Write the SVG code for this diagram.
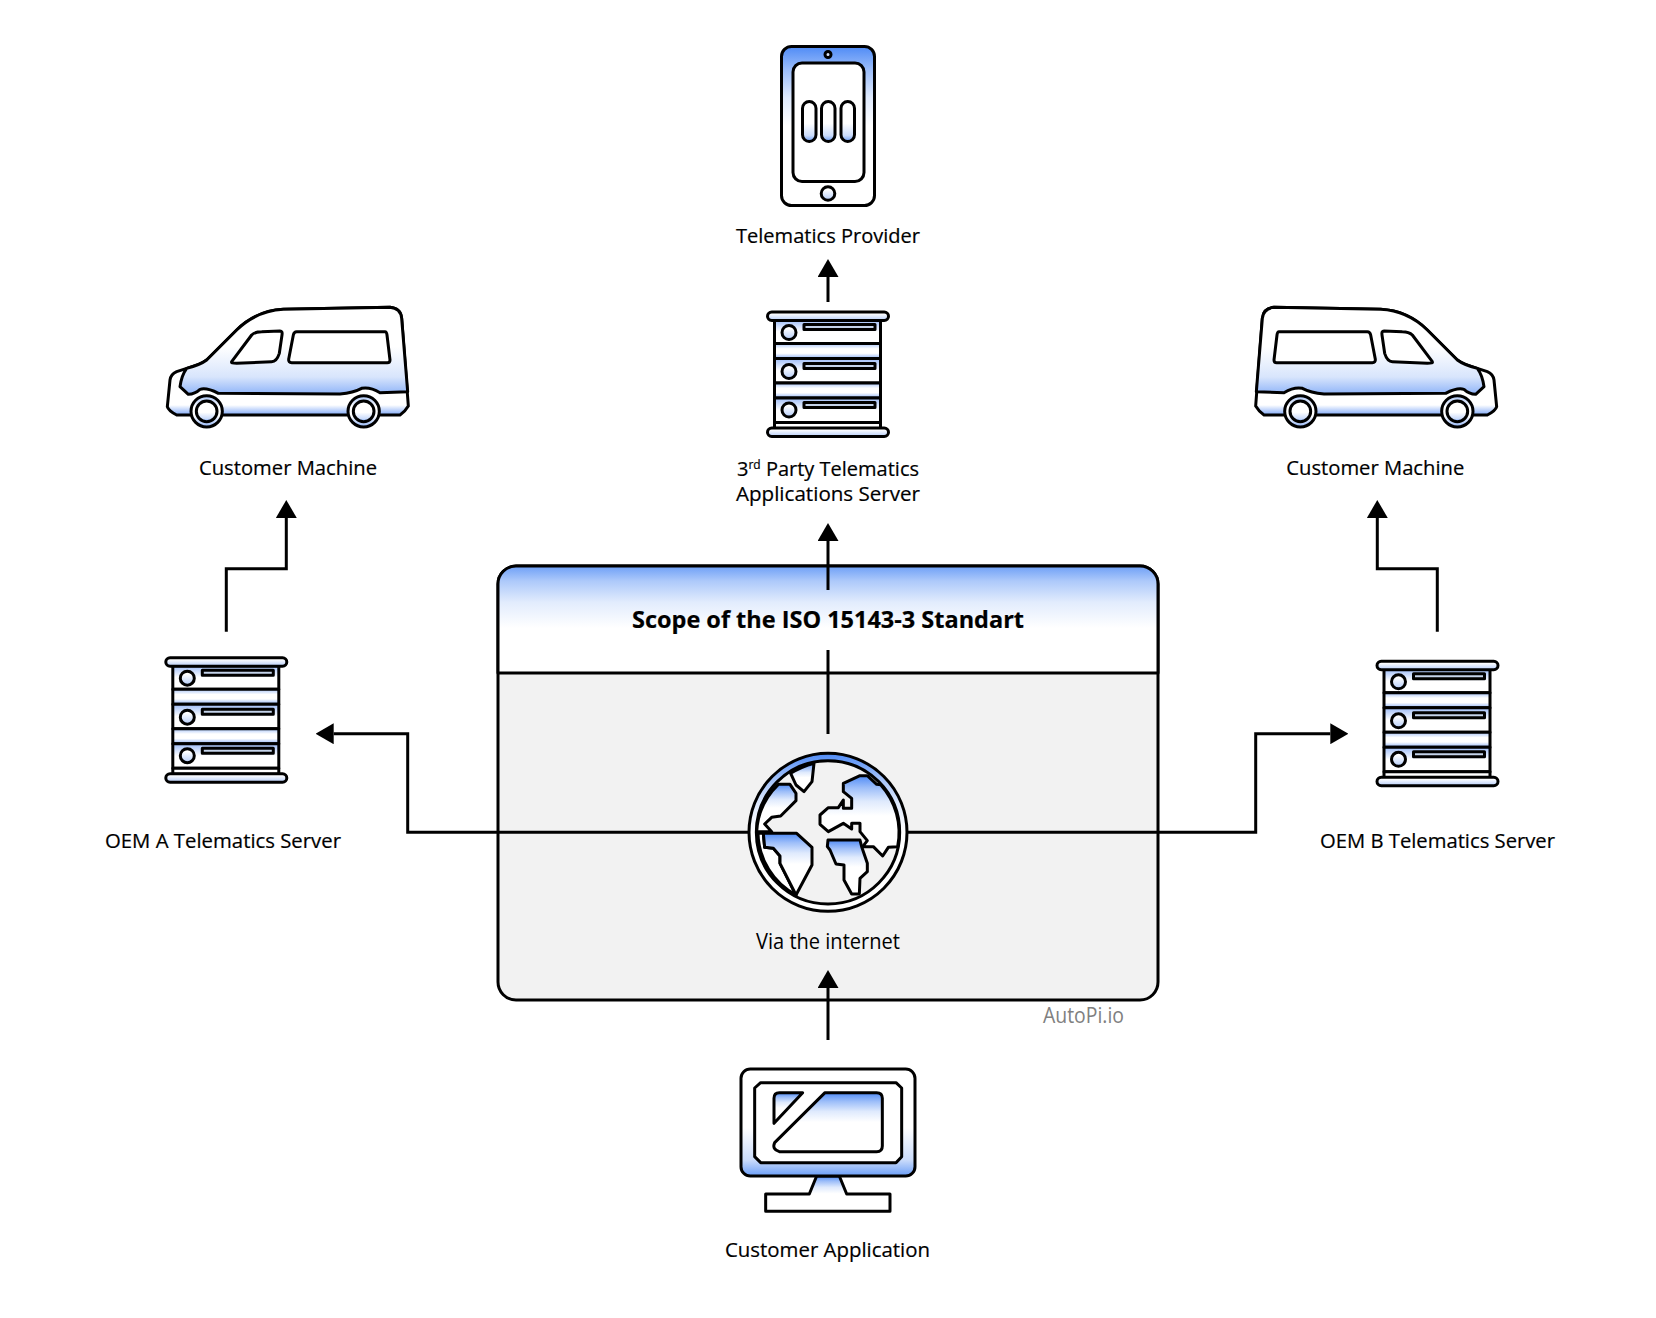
<svg xmlns="http://www.w3.org/2000/svg" xmlns:xlink="http://www.w3.org/1999/xlink" width="1656" height="1318" viewBox="0 0 1656 1318">
<style>
text{font-family:"Open Sans","Noto Sans","Liberation Sans",sans-serif;fill:#000;stroke:#000;stroke-width:.2;text-anchor:middle;font-size:20px}
.s{stroke:#000;stroke-width:3;stroke-linejoin:round}
.z{stroke:#000;stroke-width:9;stroke-linejoin:round;stroke-linecap:round}
.c{fill:none;stroke:#000;stroke-width:3;stroke-linecap:butt;stroke-linejoin:miter;marker-end:url(#head)}
.n{fill:none;stroke:#000;stroke-width:3}
.w{fill:#fff}.d{fill:url(#down)}.u{fill:url(#up)}.b{fill:url(#both)}.l{fill:url(#lightUp)}.r{fill:url(#row)}
</style>
<defs>
<linearGradient id="down" x1="0" y1="0" x2="0" y2="1"><stop offset="0" stop-color="#4f8bf6"/><stop offset=".15" stop-color="#9dbef9"/><stop offset=".32" stop-color="#dfeafd"/><stop offset=".5" stop-color="#fff"/></linearGradient>
<linearGradient id="up" x1="0" y1="0" x2="0" y2="1"><stop offset=".55" stop-color="#fff"/><stop offset=".85" stop-color="#cbdcfb"/><stop offset="1" stop-color="#6a9df6"/></linearGradient>
<linearGradient id="both" x1="0" y1="0" x2="0" y2="1"><stop offset="0" stop-color="#a8c4f8"/><stop offset=".35" stop-color="#fff"/><stop offset=".65" stop-color="#fff"/><stop offset="1" stop-color="#8fb3f7"/></linearGradient>
<linearGradient id="row" x1="0" y1="0" x2="0" y2="1"><stop offset="0" stop-color="#9dbcf8"/><stop offset=".5" stop-color="#fff"/></linearGradient>
<linearGradient id="lightUp" x1="0" y1="0" x2="0" y2="1"><stop offset=".2" stop-color="#fff"/><stop offset="1" stop-color="#b4ccf9"/></linearGradient>
<linearGradient id="head1" x1="0" y1="0" x2="0" y2="1"><stop offset="0" stop-color="#6d9ff6"/><stop offset=".14" stop-color="#adc9fa"/><stop offset=".34" stop-color="#e2ecfd"/><stop offset=".58" stop-color="#fff"/></linearGradient>
<marker id="head" markerUnits="userSpaceOnUse" markerWidth="18" markerHeight="21" refX="0" refY="10.5" orient="auto"><path d="M0,0 L18,10.5 L0,21 Z" fill="#000"/></marker>
<g id="server">
<rect class="s r" x="774.5" y="320" width="106" height="23.5"/>
<rect class="s b" x="774.5" y="343.5" width="106" height="15"/>
<rect class="s r" x="774.5" y="358.5" width="106" height="24.5"/>
<rect class="s b" x="774.5" y="383" width="106" height="15"/>
<rect class="s r" x="774.5" y="398" width="106" height="24.5"/>
<rect class="s w" x="774.5" y="422.5" width="106" height="6"/>
<rect class="s l" x="767.5" y="312" width="121" height="8.5" rx="4.25"/>
<rect class="s l" x="767.5" y="428" width="121" height="8.5" rx="4.25"/>
<circle class="s l" cx="789" cy="332.5" r="7"/><circle class="s l" cx="789" cy="371.5" r="7"/><circle class="s l" cx="789" cy="410" r="7"/>
<rect class="s" fill="#c4d3ea" x="804" y="324.5" width="71" height="5"/><rect class="s" fill="#c4d3ea" x="804" y="363.5" width="71" height="5"/><rect class="s" fill="#c4d3ea" x="804" y="402.5" width="71" height="5"/>
</g>
<g id="van" transform="translate(140,280) scale(.33333)">
<path class="z" fill="url(#vanLow)" d="M82,380 Q85,392 110,405 L780,405 Q795,395 805,378 L785,115 Q782,85 750,82 L430,88 Q350,92 290,150 L200,240 Q180,255 140,265 L110,275 Q92,283 90,300 Z"/>
<path class="z" fill="url(#vanUp)" d="M140,265 Q180,255 200,240 L290,150 Q350,92 430,88 L750,82 Q782,85 785,115 L803,335 L720,338 Q690,320 665,325 Q640,338 600,342 L235,340 Q200,322 180,328 Q165,342 145,343 L120,320 Q125,285 140,265 Z"/>
<path class="z w" d="M275,245 L335,165 Q345,155 365,155 L420,153 Q428,153 426,165 L418,220 Q410,245 395,245 L290,250 Q272,250 275,245 Z"/>
<path class="z w" d="M470,155 L735,155 Q740,155 741,165 L750,240 Q750,248 742,248 L455,248 Q445,248 446,238 L460,165 Q462,155 470,155 Z"/>
<circle class="z b" cx="200" cy="394" r="47"/><circle class="z" fill="url(#up)" cx="200" cy="394" r="31"/>
<circle class="z b" cx="671" cy="394" r="47"/><circle class="z" fill="url(#up)" cx="671" cy="394" r="31"/>
</g>
<linearGradient id="vanUp" x1="0" y1="0" x2="0" y2="1"><stop offset=".45" stop-color="#fff"/><stop offset=".8" stop-color="#d8e5fc"/><stop offset="1" stop-color="#8fb4f8"/></linearGradient>
<linearGradient id="vanLow" gradientUnits="userSpaceOnUse" x1="0" y1="345" x2="0" y2="405"><stop offset=".5" stop-color="#fff"/><stop offset="1" stop-color="#80a9f7"/></linearGradient>
</defs>

<g id="scope-box">
<rect class="s" fill="#f2f2f2" x="498" y="566" width="660" height="434" rx="18"/>
<path class="s" fill="url(#head1)" d="M498,673 L498,584 A18,18 0 0 1 516,566 L1140,566 A18,18 0 0 1 1158,584 L1158,673 Z"/>
<text x="828" y="628" style="font-size:24px;font-weight:700" textLength="392" lengthAdjust="spacingAndGlyphs">Scope of the ISO 15143-3 Standart</text>
<text x="1089" y="1028" style="fill:#808080;stroke:none;font-size:21px;font-weight:400" textLength="81" lengthAdjust="spacingAndGlyphs" transform="translate(-5.5,-5)">AutoPi.io</text>
</g>

<g id="connectors">
<path class="c" d="M828,302 L828,277"/>
<path class="c" d="M828,590 L828,541"/>
<path class="n" d="M828,650 L828,734"/>
<path class="c" d="M828,1040 L828,988"/>
<path class="c" d="M226.3,631.7 L226.3,568.7 L286.3,568.7 L286.3,518"/>
<path class="c" d="M1437.3,631.7 L1437.3,568.7 L1377.3,568.7 L1377.3,518"/>
<path class="c" d="M750,832.3 L407.7,832.3 L407.7,733.7 L333.7,733.7"/>
<path class="c" d="M906,832.3 L1255.7,832.3 L1255.7,733.7 L1330.3,733.7"/>
</g>

<g id="telematics-provider">
<rect class="s d" x="781.5" y="46.5" width="93" height="159" rx="10"/>
<rect class="s w" x="793" y="63" width="71" height="118.5" rx="9"/>
<rect class="s u" x="802.5" y="101.5" width="13.5" height="40" rx="6.7"/>
<rect class="s u" x="821.5" y="101.5" width="13.5" height="40" rx="6.7"/>
<rect class="s u" x="841" y="101.5" width="13.5" height="40" rx="6.7"/>
<circle class="s" fill="#dbe6fb" cx="828" cy="54.5" r="3"/>
<circle class="s l" cx="828" cy="193.5" r="6.8"/>
<text x="828" y="243" textLength="184" lengthAdjust="spacingAndGlyphs">Telematics Provider</text>
</g>

<g id="apps-server">
<use href="#server"/>
<text x="828" y="476"><tspan>3</tspan><tspan dy="-7" style="font-size:12px">rd</tspan><tspan dy="7"> Party Telematics</tspan></text>
<text x="828" y="501" textLength="184" lengthAdjust="spacingAndGlyphs">Applications Server</text>
</g>

<g id="machine-left">
<use href="#van"/>
<text x="288" y="475" textLength="178" lengthAdjust="spacingAndGlyphs">Customer Machine</text>
</g>
<g id="machine-right">
<use href="#van" transform="translate(1664,0) scale(-1,1)"/>
<text x="1375.3" y="475" textLength="178" lengthAdjust="spacingAndGlyphs">Customer Machine</text>
</g>

<g id="oem-a">
<use href="#server" transform="translate(-601.7,345.7)"/>
<text x="223" y="848" textLength="236" lengthAdjust="spacingAndGlyphs">OEM A Telematics Server</text>
</g>
<g id="oem-b">
<use href="#server" transform="translate(609.5,349.3)"/>
<text x="1437.5" y="848" textLength="235" lengthAdjust="spacingAndGlyphs">OEM B Telematics Server</text>
</g>

<g id="internet">
<g transform="translate(730,730) scale(.33333)">
<circle class="z" fill="url(#down)" cx="294" cy="307" r="237"/>
<circle class="z" fill="#f2f2f2" cx="294" cy="307" r="215"/>
<path class="z d" d="M182,130 Q215,110 252,100 L246,155 L222,185 L198,165 Z"/>
<path class="z d" d="M145,163 L180,163 L198,190 L198,212 L152,258 L125,262 L104,282 L125,305 L80,305 A215,215 0 0 1 145,163 Z"/>
<path class="z w" d="M84,310 L100,310 L104,352 L130,355 L150,378 L150,400 L198,495 A215,215 0 0 1 84,310 Z"/>
<path class="z d" d="M100,310 L200,310 L246,352 L246,405 L198,495 L150,400 L150,378 L130,355 L104,352 Z"/>
<path class="z d" d="M294,330 L390,330 L395,350 L412,400 L412,425 L390,445 L388,492 L365,492 L342,450 L342,405 L318,402 L300,360 L292,350 Z"/>
<path class="z d" d="M340,160 L390,137 L412,137 L440,163 L452,164 A215,215 0 0 1 503,350 L475,352 L458,378 L430,350 L398,350 L412,332 L390,305 L390,280 L365,280 L365,297 L340,280 L295,305 L270,283 L270,255 L295,233 L325,233 L340,210 L340,235 L365,235 L365,205 L340,185 Z"/>
</g>
<text x="832" y="949" textLength="144" lengthAdjust="spacingAndGlyphs" style="font-size:21px;stroke:none" transform="translate(-4,0)">Via the internet</text>
</g>

<g id="customer-application">
<g transform="translate(720,1050) scale(.33333)">
<path class="z d" d="M290,378 L268,432 L137,432 L137,484 L510,484 L510,432 L380,432 L358,378 Z"/>
<rect class="z u" x="63" y="57" width="522" height="321" rx="28"/>
<path class="z w" d="M122,98 L528,98 L545,114 L545,320 L528,338 L122,338 L104,320 L104,114 Z"/>
<path class="z d" d="M162,145 Q162,128 178,128 L248,128 L162,220 Z"/>
<path class="z d" d="M315,128 L470,128 Q487,128 487,145 L487,288 Q487,305 470,305 L178,305 Q155,298 164,278 Z"/>
</g>
<text x="827.5" y="1257" textLength="205" lengthAdjust="spacingAndGlyphs">Customer Application</text>
</g>
</svg>
